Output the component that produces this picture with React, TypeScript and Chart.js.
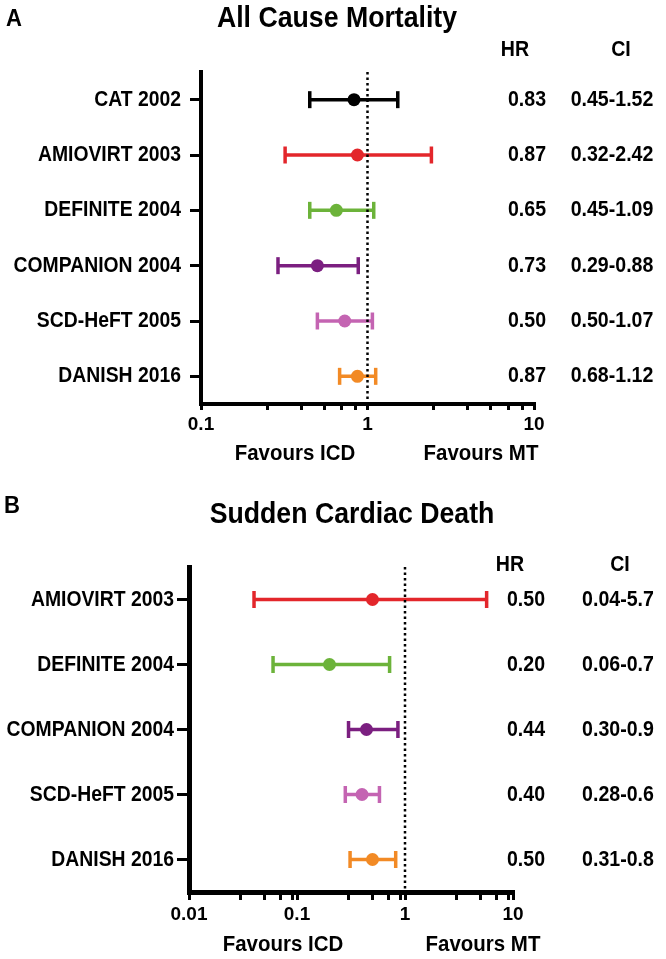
import React, { useEffect, useRef } from "react";
import { Chart, registerables } from "chart.js";

Chart.register(...registerables);

const FONT = "'Liberation Sans', Arial, Helvetica, sans-serif";

// ---------- Panel A: All Cause Mortality ----------
const studiesA = ["CAT 2002", "AMIOVIRT 2003", "DEFINITE 2004", "COMPANION 2004", "SCD-HeFT 2005", "DANISH 2016"];
const pointA = [0.83, 0.87, 0.65, 0.5, 0.73, 0.87];
const lowA = [0.45, 0.32, 0.45, 0.29, 0.5, 0.68];
const highA = [1.52, 2.42, 1.09, 0.88, 1.07, 1.12];
const hrTextA = ["0.83", "0.87", "0.65", "0.73", "0.50", "0.87"];
const ciTextA = ["0.45-1.52", "0.32-2.42", "0.45-1.09", "0.29-0.88", "0.50-1.07", "0.68-1.12"];
const colorsA = ["#000000", "#e3262b", "#6cb33a", "#7b1f80", "#c464b2", "#f28a25"];
const majorTicksA = [0.1, 1, 10];
const minorTicksA = [0.25, 0.4, 0.55, 0.7, 0.85, 2.5, 4, 5.5, 7, 8.5];

// ---------- Panel B: Sudden Cardiac Death ----------
const studiesB = ["AMIOVIRT 2003", "DEFINITE 2004", "COMPANION 2004", "SCD-HeFT 2005", "DANISH 2016"];
const pointB = [0.5, 0.2, 0.44, 0.4, 0.5];
const lowB = [0.04, 0.06, 0.3, 0.28, 0.31];
const highB = [5.7, 0.72, 0.86, 0.58, 0.82];
const hrTextB = ["0.50", "0.20", "0.44", "0.40", "0.50"];
const ciTextB = ["0.04-5.7", "0.06-0.7", "0.30-0.9", "0.28-0.6", "0.31-0.8"];
const colorsB = ["#e3262b", "#6cb33a", "#7b1f80", "#c464b2", "#f28a25"];
const majorTicksB = [0.01, 0.1, 1, 10];
const minorTicksB = [0.03, 0.05, 0.07, 0.09, 0.3, 0.5, 0.7, 0.9, 3, 5, 7, 9];

const refValue = 1;

type PanelCfg = {
  letter: string;
  title: string;
  studies: string[];
  point: number[];
  low: number[];
  high: number[];
  hrText: string[];
  ciText: string[];
  colors: string[];
  major: number[];
  minor: number[];
  top: number;
  height: number;
  area: { left: number; right: number; top: number; bottom: number };
  axisWidth: number;
  yTickLen: number;
  yTickPad: number;
  xTickLen: number;
  letterPos: [number, number];
  titlePos: [number, number];
  headY: number;
  hrHeadX: number;
  ciHeadX: number;
  hrX: number;
  ciX: number;
  favY: number;
  favIcdX: number;
  favMtX: number;
  capR: number;
  dotR: number;
  barW: number;
};

const panels: PanelCfg[] = [
  {
    letter: "A",
    title: "All Cause Mortality",
    studies: studiesA,
    point: pointA,
    low: lowA,
    high: highA,
    hrText: hrTextA,
    ciText: ciTextA,
    colors: colorsA,
    major: majorTicksA,
    minor: minorTicksA,
    top: 0,
    height: 480,
    area: { left: 201, right: 534, top: 72, bottom: 404 },
    axisWidth: 4,
    yTickLen: 11,
    yTickPad: 9,
    xTickLen: 6,
    letterPos: [6, 19],
    titlePos: [337, 19],
    headY: 50,
    hrHeadX: 515,
    ciHeadX: 621,
    hrX: 527,
    ciX: 612,
    favY: 454,
    favIcdX: 295,
    favMtX: 481,
    capR: 8.5,
    dotR: 6.5,
    barW: 3.5,
  },
  {
    letter: "B",
    title: "Sudden Cardiac Death",
    studies: studiesB,
    point: pointB,
    low: lowB,
    high: highB,
    hrText: hrTextB,
    ciText: ciTextB,
    colors: colorsB,
    major: majorTicksB,
    minor: minorTicksB,
    top: 480,
    height: 479,
    area: { left: 189, right: 513, top: 87, bottom: 412 },
    axisWidth: 5,
    yTickLen: 12,
    yTickPad: 3,
    xTickLen: 8,
    letterPos: [4, 26],
    titlePos: [352, 35],
    headY: 85,
    hrHeadX: 510,
    ciHeadX: 620,
    hrX: 526,
    ciX: 618,
    favY: 465,
    favIcdX: 283,
    favMtX: 483,
    capR: 8.5,
    dotR: 6.5,
    barW: 3.5,
  },
];

function drawText(ctx: CanvasRenderingContext2D, text: string, x: number, y: number, size: number, align: CanvasTextAlign, sx: number) {
  ctx.save();
  ctx.translate(x, y);
  ctx.scale(sx, 1);
  ctx.font = `bold ${size}px ${FONT}`;
  ctx.textAlign = align;
  ctx.textBaseline = "middle";
  ctx.fillStyle = "#000";
  ctx.fillText(text, 0, 0);
  ctx.restore();
}

const textPlugin = {
  id: "forestText",
  afterDraw(chart: any, _args: any, opts: any) {
    const p: PanelCfg = opts.panel;
    const ctx = chart.ctx as CanvasRenderingContext2D;
    const ys = chart.scales.y;
    drawText(ctx, p.letter, p.letterPos[0], p.letterPos[1], 24, "left", 0.92);
    drawText(ctx, p.title, p.titlePos[0], p.titlePos[1], 29, "center", 0.92);
    drawText(ctx, "HR", p.hrHeadX, p.headY, 22, "center", 0.89);
    drawText(ctx, "CI", p.ciHeadX, p.headY, 22, "center", 0.89);
    const labelX = p.area.left - p.yTickLen - p.yTickPad;
    p.studies.forEach((s, i) => drawText(ctx, s, labelX, ys.getPixelForValue(i), 22, "right", 0.88));
    p.hrText.forEach((t, i) => drawText(ctx, t, p.hrX, ys.getPixelForValue(i), 22, "center", 0.89));
    p.ciText.forEach((t, i) => drawText(ctx, t, p.ciX, ys.getPixelForValue(i), 22, "center", 0.89));
    drawText(ctx, "Favours ICD", p.favIcdX, p.favY, 22, "center", 0.93);
    drawText(ctx, "Favours MT", p.favMtX, p.favY, 22, "center", 0.93);
  },
};

function ForestPanel({ p }: { p: PanelCfg }) {
  const ref = useRef<HTMLCanvasElement | null>(null);
  useEffect(() => {
    if (!ref.current) return;
    const n = p.studies.length;
    const W = 666;
    const xAxisH = 30;
    const ciSets = p.studies.map((s, i) => ({
      type: "scatter" as const,
      label: s + " CI",
      data: [
        { x: p.low[i], y: i },
        { x: p.high[i], y: i },
      ],
      showLine: true,
      borderColor: p.colors[i],
      borderWidth: p.barW,
      pointStyle: "line" as const,
      pointRotation: 90,
      pointRadius: p.capR,
      pointHoverRadius: p.capR,
      pointBorderColor: p.colors[i],
      pointBorderWidth: p.barW,
      order: 3,
    }));
    const chart = new Chart(ref.current, {
      type: "scatter",
      data: {
        datasets: [
          {
            label: "HR",
            data: p.point.map((v, i) => ({ x: v, y: i })),
            pointRadius: p.dotR,
            pointHoverRadius: p.dotR,
            pointBackgroundColor: p.colors,
            pointBorderColor: p.colors,
            pointBorderWidth: 0,
            order: 0,
          },
          {
            label: "ref",
            data: [
              { x: refValue, y: -0.5 },
              { x: refValue, y: n - 0.5 },
            ],
            showLine: true,
            borderColor: "#000",
            borderWidth: 2.5,
            borderDash: [2.5, 3],
            borderCapStyle: "butt",
            pointRadius: 0,
            order: 1,
          },
          ...ciSets,
        ] as any,
      },
      options: {
        responsive: false,
        animation: false,
        events: [],
        layout: {
          padding: {
            left: 0,
            top: p.area.top,
            right: W - p.area.right,
            bottom: p.height - p.area.bottom - xAxisH,
          },
        },
        plugins: {
          legend: { display: false },
          tooltip: { enabled: false },
          forestText: { panel: p },
        } as any,
        scales: {
          x: {
            type: "logarithmic",
            min: p.major[0],
            max: p.major[p.major.length - 1],
            afterFit: (s: any) => {
              s.height = xAxisH;
            },
            afterBuildTicks: (s: any) => {
              const vals = [...p.major, ...p.minor].sort((a, b) => a - b);
              s.ticks = vals.map((v) => ({ value: v }));
            },
            border: { display: true, color: "#000", width: p.axisWidth },
            grid: {
              display: true,
              drawOnChartArea: false,
              drawTicks: true,
              tickLength: p.xTickLen,
              color: "#000",
              lineWidth: 3,
            },
            ticks: {
              autoSkip: false,
              maxRotation: 0,
              padding: 3,
              color: "#000",
              font: { family: FONT, size: 19, weight: "bold" },
              callback: (v: any) => (p.major.includes(Number(v)) ? String(v) : ""),
            },
          },
          y: {
            type: "linear",
            min: -0.5,
            max: n - 0.5,
            reverse: true,
            afterFit: (s: any) => {
              s.width = p.area.left;
            },
            afterBuildTicks: (s: any) => {
              s.ticks = p.studies.map((_, i) => ({ value: i }));
            },
            border: { display: true, color: "#000", width: p.axisWidth },
            grid: {
              display: true,
              drawOnChartArea: false,
              drawTicks: true,
              tickLength: p.yTickLen,
              color: "#000",
              lineWidth: 3,
            },
            ticks: {
              autoSkip: false,
              padding: p.yTickPad,
              color: "rgba(0,0,0,0)",
              font: { family: FONT, size: 19, weight: "bold" },
              callback: (v: any) => p.studies[Number(v)] ?? "",
            },
          },
        },
      } as any,
      plugins: [textPlugin],
    });
    return () => chart.destroy();
  }, [p]);
  return (
    <canvas
      ref={ref}
      width={666}
      height={p.height}
      style={{ position: "absolute", left: 0, top: p.top, width: 666, height: p.height, display: "block" }}
    />
  );
}

export default function App() {
  return (
    <div style={{ position: "absolute", left: 0, top: 0, width: 666, height: 959, background: "#fff" }}>
      {panels.map((p) => (
        <ForestPanel key={p.letter} p={p} />
      ))}
    </div>
  );
}
